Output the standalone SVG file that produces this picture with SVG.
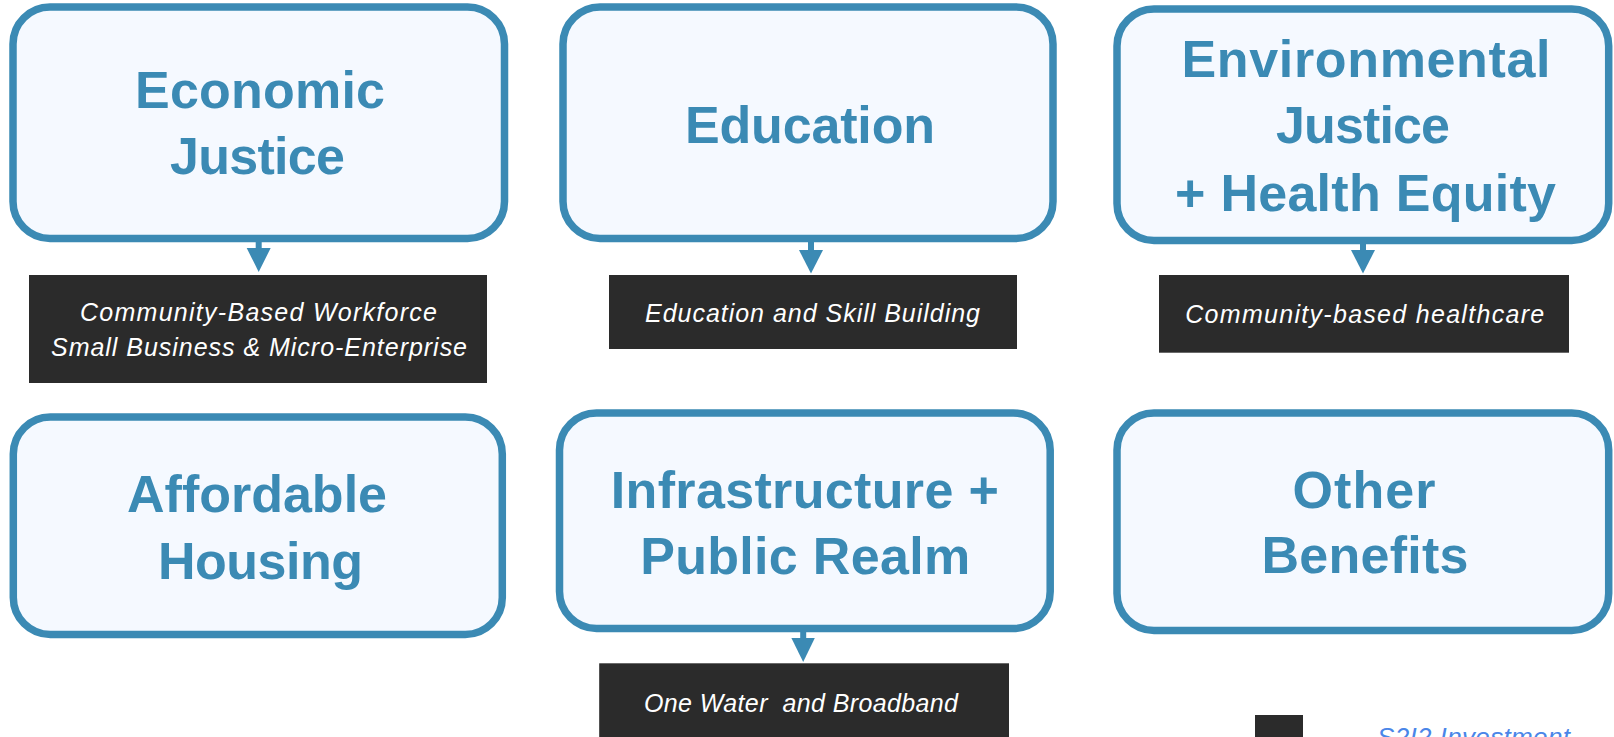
<svg xmlns="http://www.w3.org/2000/svg" width="1614" height="737" viewBox="0 0 1614 737">
  <style>
    .card { fill: #f5f9ff; stroke: #3b8ab4; stroke-width: 7.5; }
    .title { font-family: "Liberation Sans", Arial, sans-serif; font-weight: bold; font-size: 52px; fill: #3b8ab4; text-anchor: middle; }
    .tag { fill: #2b2b2b; }
    .tagtext { font-family: "Liberation Sans", Arial, sans-serif; font-style: italic; font-size: 25px; fill: #ffffff; text-anchor: middle; }
    .stem { stroke: #3b8ab4; stroke-width: 6; fill: none; }
    .head { fill: #3b8ab4; }
    .legend { font-family: "Liberation Sans", Arial, sans-serif; font-style: italic; font-size: 26px; fill: #4a86e8; }
  </style>
  <rect width="1614" height="737" fill="#ffffff"/>

  <!-- connectors: card to its programme tag -->
  <g id="connectors">
    <line class="stem" x1="258.7" y1="241" x2="258.7" y2="249"/>
    <polygon class="head" points="246.7,248 270.7,248 258.7,272"/>
    <line class="stem" x1="811" y1="241" x2="811" y2="251"/>
    <polygon class="head" points="799,250 823,250 811,273.5"/>
    <line class="stem" x1="1363" y1="243" x2="1363" y2="251"/>
    <polygon class="head" points="1351,250 1375,250 1363,273.5"/>
    <line class="stem" x1="803.2" y1="631" x2="803.2" y2="639"/>
    <polygon class="head" points="791.4,638 814.8,638 803.2,662"/>
  </g>

  <g id="economic-justice">
    <rect class="card" x="13" y="7" width="491.5" height="231.5" rx="37"/>
    <text class="title" x="260" y="108" textLength="250">Economic</text>
    <text class="title" x="257.5" y="174" textLength="175">Justice</text>
  </g>
  <g id="economic-justice-tag">
    <rect class="tag" x="29" y="275" width="458" height="108"/>
    <text class="tagtext" x="258.5" y="321" textLength="357">Community-Based Workforce</text>
    <text class="tagtext" x="259" y="356" textLength="416">Small Business &amp; Micro-Enterprise</text>
  </g>

  <g id="education">
    <rect class="card" x="563" y="7" width="490" height="231.5" rx="37"/>
    <text class="title" x="810" y="142.7" textLength="250">Education</text>
  </g>
  <g id="education-tag">
    <rect class="tag" x="609" y="275" width="408" height="74"/>
    <text class="tagtext" x="812.5" y="321.7" textLength="335">Education and Skill Building</text>
  </g>

  <g id="environmental-justice">
    <rect class="card" x="1117" y="9" width="491.7" height="231.5" rx="37"/>
    <text class="title" x="1366" y="76.7" textLength="369">Environmental</text>
    <text class="title" x="1363" y="142.7" textLength="174">Justice</text>
    <text class="title" x="1365.5" y="211" textLength="381">+ Health Equity</text>
  </g>
  <g id="environmental-justice-tag">
    <rect class="tag" x="1159" y="275" width="410" height="77.7"/>
    <text class="tagtext" x="1364.7" y="323.3" textLength="359">Community-based healthcare</text>
  </g>

  <g id="affordable-housing">
    <rect class="card" x="13.3" y="417" width="489" height="217.5" rx="37"/>
    <text class="title" x="257" y="512.3" textLength="260">Affordable</text>
    <text class="title" x="260.5" y="579" textLength="205">Housing</text>
  </g>

  <g id="infrastructure">
    <rect class="card" x="559.5" y="413" width="490.7" height="215.5" rx="37"/>
    <text class="title" x="804.8" y="508.3" textLength="388">Infrastructure +</text>
    <text class="title" x="805.2" y="574" textLength="330">Public Realm</text>
  </g>
  <g id="infrastructure-tag">
    <rect class="tag" x="599.2" y="663.3" width="409.8" height="80"/>
    <text class="tagtext" x="801" y="711.7" textLength="314" xml:space="preserve">One Water  and Broadband</text>
  </g>

  <g id="other-benefits">
    <rect class="card" x="1117" y="413" width="491.7" height="217.5" rx="37"/>
    <text class="title" x="1364" y="507.7" textLength="143">Other</text>
    <text class="title" x="1365" y="573.3" textLength="207">Benefits</text>
  </g>

  <g id="legend">
    <rect class="tag" x="1255" y="715" width="48" height="30"/>
    <text class="legend" x="1377" y="746" textLength="193">S2I2 Investment</text>
  </g>
</svg>
